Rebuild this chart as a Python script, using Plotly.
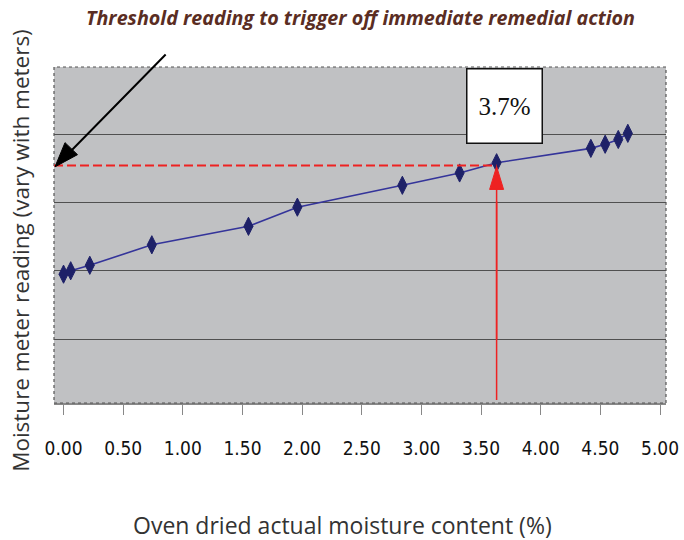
import plotly.graph_objects as go

# ---- data ----
oven_dry_pct = [0.00, 0.06, 0.22, 0.74, 1.55, 1.96, 2.84, 3.32, 3.63, 4.42, 4.54, 4.65, 4.73]
meter_reading = [1.95, 2.00, 2.08, 2.38, 2.65, 2.93, 3.25, 3.43, 3.58, 3.79, 3.85, 3.92, 4.01]
x_ticks = [0.0, 0.5, 1.0, 1.5, 2.0, 2.5, 3.0, 3.5, 4.0, 4.5, 5.0]
y_grid = [1, 2, 3, 4]
threshold_x = 3.63
threshold_y = 3.54
label_x, label_y = 3.70, 4.41
label_text = "3.7%"
title_text = "Threshold reading to trigger off immediate remedial action"
x_title = "Oven dried actual moisture content (%)"
y_title = "Moisture meter reading (vary with meters)"

fig = go.Figure()
fig.add_trace(go.Scatter(
    x=oven_dry_pct, y=meter_reading, mode="lines+markers",
    line=dict(color="#34349A", width=1.6),
    marker=dict(symbol="diamond-tall", size=13, color="#1E2168",
                line=dict(color="#1E2168", width=1)),
    showlegend=False, hoverinfo="x+y"))

shapes = []
# dotted plot border
shapes.append(dict(type="rect", xref="paper", yref="paper", x0=0, x1=1, y0=0, y1=1,
                   line=dict(color="#555555", width=1.2, dash="dot"), layer="above"))
# red dashed threshold line
shapes.append(dict(type="line", xref="x", yref="y", x0=-0.08, x1=threshold_x,
                   y0=threshold_y, y1=threshold_y,
                   line=dict(color="#EE2222", width=2, dash="9px,4px")))
# red vertical arrow shaft
shapes.append(dict(type="line", xref="x", yref="paper", x0=threshold_x, x1=threshold_x,
                   y0=0.009, y1=0.6, line=dict(color="#EE2222", width=1.5)))
shapes.append(dict(type="line", xref="x", yref="y", x0=threshold_x, x1=threshold_x,
                   y0=1.0, y1=threshold_y - 0.2, line=dict(color="#EE2222", width=1.5)))
# red arrow head (pixel path anchored at the tip)
shapes.append(dict(type="path", xref="x", yref="y", xsizemode="pixel", ysizemode="pixel",
                   xanchor=threshold_x, yanchor=threshold_y,
                   path="M0,-1 L-7,-24 L7,-24 Z",
                   fillcolor="#EE2222", line=dict(color="#EE2222", width=1)))
# black arrow head at left edge
shapes.append(dict(type="path", xref="paper", yref="y", xsizemode="pixel", ysizemode="pixel",
                   xanchor=0, yanchor=threshold_y - 0.02,
                   path="M1,0 L23.5,12.2 L11.0,24.2 Z",
                   fillcolor="#000000", line=dict(color="#000000", width=1)))

annotations = []
# black arrow shaft
annotations.append(dict(xref="paper", yref="y", x=0.01, y=threshold_y + 0.05, text="",
                        showarrow=True, arrowhead=0, arrowwidth=2, arrowcolor="#000000",
                        ax=107, ay=-109, axref="pixel", ayref="pixel", standoff=0))
# 3.7% box
annotations.append(dict(xref="x", yref="y", x=label_x, y=label_y, text=label_text,
                        showarrow=False, bgcolor="#FFFFFF", bordercolor="#111111", borderwidth=1.5,
                        width=72, height=71, borderpad=1,
                        font=dict(family="Liberation Serif, Times New Roman, serif", size=25, color="#111111")))
# titles
annotations.append(dict(xref="paper", yref="paper", x=-0.056, y=0.455, text=y_title, textangle=-90,
                        showarrow=False, xanchor="center", yanchor="middle",
                        font=dict(family="Open Sans, sans-serif", size=22.5, color="#333333")))
annotations.append(dict(xref="paper", yref="paper", x=0.472, y=-0.363, text=x_title,
                        showarrow=False, xanchor="center", yanchor="middle",
                        font=dict(family="Open Sans, sans-serif", size=23, color="#333333")))
annotations.append(dict(xref="paper", yref="paper", x=0.5, y=1.146, text="<b><i>" + title_text + "</i></b>",
                        showarrow=False, xanchor="center", yanchor="middle",
                        font=dict(family="Open Sans, sans-serif", size=19.7, color="#5A2D23")))

fig.update_layout(
    width=684, height=540,
    margin=dict(l=54, r=18, t=67, b=137, autoexpand=False),
    paper_bgcolor="#FFFFFF", plot_bgcolor="#C0C1C3",
    shapes=shapes, annotations=annotations,
    xaxis=dict(range=[-0.08, 5.05], tickvals=x_ticks, tickformat=".2f", automargin=False,
               ticks="outside", ticklen=10, tickcolor="#888888", tickwidth=1.2,
               showline=True, linecolor="#888888", linewidth=1.5,
               showgrid=False, zeroline=False, ticklabelstandoff=17,
               tickfont=dict(family="Liberation Sans Narrow, Arial Narrow, DejaVu Sans Condensed, sans-serif",
                             size=19, color="#111111")),
    yaxis=dict(range=[0.066, 4.98], tickvals=y_grid, showticklabels=False, automargin=False,
               showgrid=True, gridcolor="#505050", gridwidth=1.3, zeroline=False,
               ticks="", showline=False),
)

fig.write_html("out.html", config={"displayModeBar": False},
               post_script="document.body.style.margin='0';document.body.style.padding='0';")
